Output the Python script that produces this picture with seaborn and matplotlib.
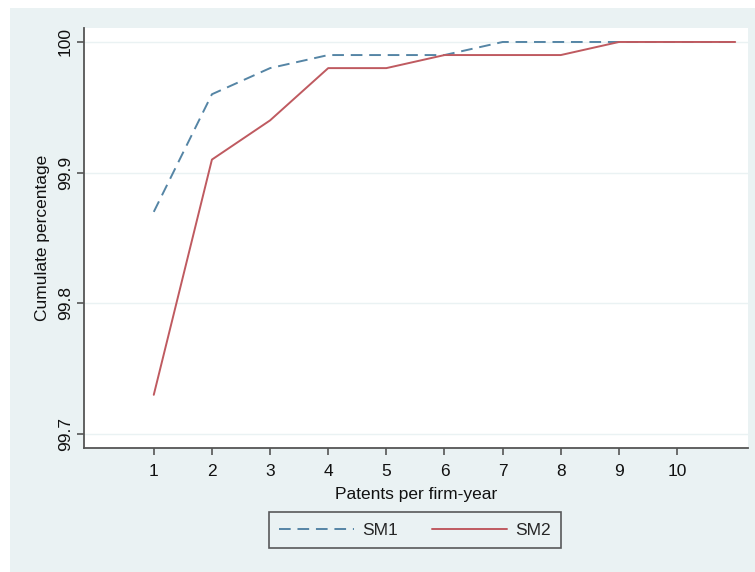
import matplotlib
matplotlib.use("Agg")
import matplotlib.pyplot as plt
import seaborn as sns
import pandas as pd
from matplotlib.patches import Rectangle

patents = [1, 2, 3, 4, 5, 6, 7, 8, 9, 10, 11]
sm1 = [99.87, 99.96, 99.98, 99.99, 99.99, 99.99, 100.0, 100.0, 100.0, 100.0, 100.0]
sm2 = [99.73, 99.91, 99.94, 99.98, 99.98, 99.99, 99.99, 99.99, 100.0, 100.0, 100.0]
x_ticks = [1, 2, 3, 4, 5, 6, 7, 8, 9, 10]
y_ticks = [99.7, 99.8, 99.9, 100]
y_tick_labels = ["99.7", "99.8", "99.9", "100"]

df = pd.DataFrame({
    "x": patents * 2,
    "y": sm1 + sm2,
    "series": ["SM1"] * len(patents) + ["SM2"] * len(patents),
})

sns.set_theme(style="white")
plt.rcParams["font.family"] = ["Liberation Sans", "DejaVu Sans"]

FS = 12.5

fig = plt.figure(figsize=(7.55, 5.72), dpi=100)
fig.patch.set_facecolor("white")
fig.patches.append(Rectangle((10 / 755, 0), 1 - 10 / 755, 1 - 8 / 572,
                             transform=fig.transFigure, facecolor="#eaf2f3",
                             edgecolor="none", zorder=-10))

ax = fig.add_axes([84 / 755, 1 - 448 / 572, (748 - 84) / 755, (448 - 28) / 572])
ax.set_facecolor("white")

palette = {"SM1": "#5585a5", "SM2": "#bf5a60"}
sns.lineplot(data=df, x="x", y="y", hue="series", style="series",
             palette=palette, dashes={"SM1": (6, 3.5), "SM2": ""},
             ax=ax, linewidth=1.4, legend=True)

ax.set_xlim(-0.2, 11.22)
ax.set_ylim(99.6893, 100.0107)
ax.set_xticks(x_ticks)
ax.set_xticklabels([str(t) for t in x_ticks])
ax.set_yticks(y_ticks)
ax.set_yticklabels(y_tick_labels, rotation=90, va="center")
for yt in y_ticks:
    ax.axhline(yt, color="#eaf2f3", linewidth=1.0, zorder=0)

for s in ["top", "right"]:
    ax.spines[s].set_visible(False)
for s in ["left", "bottom"]:
    ax.spines[s].set_color("#555555")
    ax.spines[s].set_linewidth(1.3)

ax.tick_params(axis="both", which="major", direction="out", length=5, width=1.2,
               color="#555555", labelsize=FS, labelcolor="#111111", pad=3,
               bottom=True, left=True)
ax.tick_params(axis="x", pad=6.5)
ax.set_xlabel("Patents per firm-year", fontsize=FS, color="#111111", labelpad=6)
ax.set_ylabel("Cumulate percentage", fontsize=FS, color="#111111", labelpad=6)

leg = ax.legend(loc="center", bbox_to_anchor=(415 / 755, (572 - 530) / 572),
                bbox_transform=fig.transFigure, ncol=2, frameon=True,
                fancybox=False, fontsize=FS, handlelength=4.3,
                columnspacing=2.0, handletextpad=0.45, borderpad=0.6,
                title=None)
leg.get_frame().set_edgecolor("#333333")
leg.get_frame().set_linewidth(1.2)
leg.get_frame().set_facecolor("#eaf2f3")

fig.savefig("out.png", dpi=100)
